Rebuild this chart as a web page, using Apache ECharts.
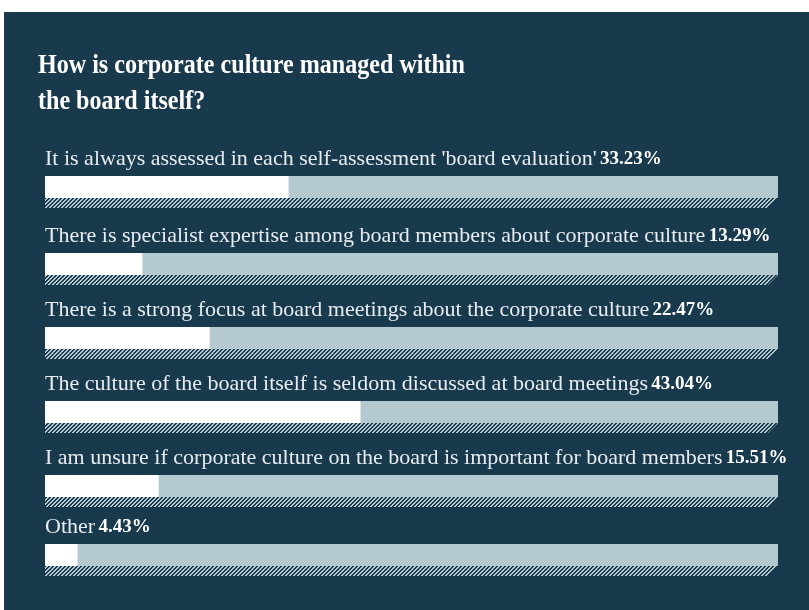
<!DOCTYPE html>
<html>
<head>
<meta charset="utf-8">
<script src="https://cdn.jsdelivr.net/npm/echarts@6/dist/echarts.min.js"></script>
<style>
  html, body { margin: 0; padding: 0; background: #fff; }
  #chart { width: 809px; height: 610px; }
</style>
</head>
<body>
<div id="chart"></div>
<script>
// answers and their share of respondents (%)
const answers = [
  "It is always assessed in each self-assessment 'board evaluation'",
  "There is specialist expertise among board members about corporate culture",
  "There is a strong focus at board meetings about the corporate culture",
  "The culture of the board itself is seldom discussed at board meetings",
  "I am unsure if corporate culture on the board is important for board members",
  "Other"
];
const shares = [33.23, 13.29, 22.47, 43.04, 15.51, 4.43];
const fullScale = 100;
const titleLines = ["How is corporate culture managed within", "the board itself?"];

// layout: top edge of every bar row
const rowTops = [176, 253, 327, 401, 475, 544];
const barHeight = 22;

const navy = "#193a4d";
const track = "#b5c9d1";

// diagonal hatch pattern
const hatch = document.createElement("canvas");
hatch.width = 4;
hatch.height = 4;
const hctx = hatch.getContext("2d");
const img = hctx.createImageData(4, 4);
for (let y = 0; y < 4; y++) {
  for (let x = 0; x < 4; x++) {
    const k = (y * 4 + x) * 4;
    const light = (x + y) % 4 < 2;
    const c = light ? [181, 201, 209] : [25, 58, 77];
    img.data[k] = c[0];
    img.data[k + 1] = c[1];
    img.data[k + 2] = c[2];
    img.data[k + 3] = 255;
  }
}
hctx.putImageData(img, 0, 0);

const grid = rowTops.map((top) => ({
  left: 45,
  right: 31,
  top: top,
  height: barHeight
}));
const xAxis = rowTops.map((_, i) => ({
  type: "value", gridIndex: i, min: 0, max: fullScale, show: false
}));
const yAxis = answers.map((name, i) => ({
  type: "category", gridIndex: i, data: [name], show: false
}));

const series = [];
answers.forEach((name, i) => {
  // light track
  series.push({
    type: "bar", xAxisIndex: i, yAxisIndex: i,
    data: [fullScale], barWidth: "100%", silent: true,
    itemStyle: { color: track }, z: 1
  });
  // answer share
  series.push({
    type: "bar", xAxisIndex: i, yAxisIndex: i,
    data: [shares[i]], barWidth: "100%", barGap: "-100%", silent: true,
    itemStyle: { color: "#ffffff" }, z: 2,
    label: {
      show: true,
      position: [0, -6],
      align: "left",
      verticalAlign: "bottom",
      formatter: (p) => `{n|${p.name}} {b|${p.value.toFixed(2)}%}`,
      rich: {
        n: { fontFamily: "Liberation Serif", fontSize: 22, color: "#e6ecef" },
        b: { fontFamily: "Liberation Serif", fontSize: 19, fontWeight: "bold", color: "#ffffff" }
      }
    }
  });
  // hatched shadow strip
  series.push({
    type: "custom", xAxisIndex: i, yAxisIndex: i, silent: true,
    data: [[fullScale, 0]],
    renderItem: (params, api) => {
      const a = api.coord([0, api.value(1)]);
      const b = api.coord([api.value(0), api.value(1)]);
      const half = api.size([0, 1])[1] / 2;
      const y0 = a[1] + half;
      const y1 = y0 + 10;
      return {
        type: "polygon",
        shape: { points: [[a[0], y0], [b[0], y0], [b[0] - 10, y1], [a[0], y1]] },
        style: { fill: { image: hatch, repeat: "repeat" } }
      };
    },
    z: 1
  });
});

const chart = echarts.init(document.getElementById("chart"));
chart.setOption({
  backgroundColor: "#ffffff",
  animation: false,
  graphic: [{
    type: "rect",
    z: -10,
    silent: true,
    shape: { x: 4, y: 12, width: 805, height: 598 },
    style: { fill: navy }
  }].concat(titleLines.map((line, i) => ({
    type: "text",
    silent: true,
    x: 38,
    y: 52 + i * 36,
    scaleX: 0.86,
    style: {
      text: line,
      fill: "#ffffff",
      font: "bold 28px 'Liberation Serif'",
      verticalAlign: "top"
    }
  }))),
  grid: grid,
  xAxis: xAxis,
  yAxis: yAxis,
  series: series
});
</script>
</body>
</html>
